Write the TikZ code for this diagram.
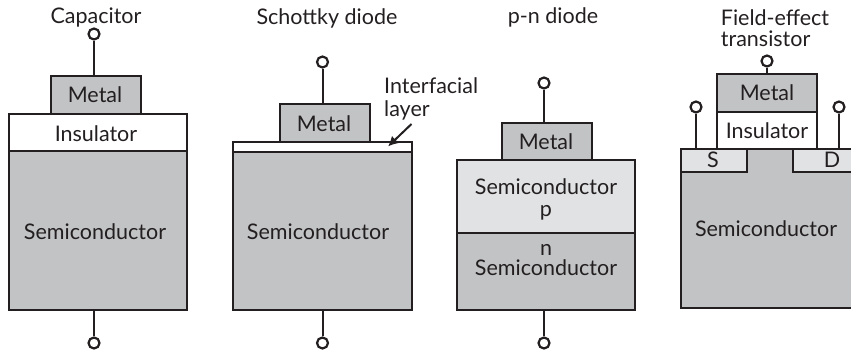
\documentclass[tikz,border=0pt]{standalone}
\usepackage{fontspec}
\usetikzlibrary{arrows.meta}
\setmainfont{Lato}
\definecolor{semi}{RGB}{194,195,197}
\definecolor{lite}{RGB}{225,226,228}
\definecolor{ink}{RGB}{35,31,32}
\tikzset{
  lab/.style={text=ink,font=\fontsize{21.5}{23}\selectfont,align=center,inner sep=0pt},
  wire/.style={draw=ink,line width=2pt},
  term/.style={circle,draw=ink,line width=2.2pt,fill=white,minimum size=11pt,inner sep=0pt}
}
\newcommand{\lay}[6]{% name, x1, y1, x2, y2, fill
  \node[draw=ink,line width=2pt,fill=#6,inner sep=0pt,outer sep=0pt,anchor=north west,minimum width=#4pt-#2pt,minimum height=#5pt-#3pt] (#1) at (#2,#3) {};}
\begin{document}
\begin{tikzpicture}[x=1pt,y=-1pt]
\useasboundingbox (0,0) rectangle (851,351);
% Capacitor
\lay{capS}{9}{151}{187}{310}{semi}
\lay{capI}{9}{114}{187}{151}{white}
\lay{capM}{51}{76}{141}{114}{semi}
\node[term] (capT) at (94,34) {};
\node[term] (capB) at (94,343) {};
\draw[wire] (capT) -- (capT |- capM.north);
\draw[wire] (capB) -- (capB |- capS.south);
\node[lab] at (96,18) {Capacitor};
\node[lab] at (95,95) {Metal};
\node[lab] at (96,134) {Insulator};
\node[lab] at (95,232) {Semiconductor};
% Schottky
\lay{schS}{233}{152}{412}{310}{semi}
\lay{schI}{233}{142}{412}{152}{white}
\lay{schM}{280}{104}{370}{142}{semi}
\node[term] (schT) at (322.5,62) {};
\node[term] (schB) at (322.5,343) {};
\draw[wire] (schT) -- (schT |- schM.north);
\draw[wire] (schB) -- (schB |- schS.south);
\node[lab] at (327,18) {Schottky diode};
\node[lab] at (324,124) {Metal};
\node[lab] at (318,232) {Semiconductor};
\node[lab,anchor=north west,align=left] (ilab) at (384,77) {Interfacial\\layer};
\coordinate (arrS) at (411.5,124);
\coordinate (arrE) at (388,146.5);
\draw[draw=ink,line width=2pt,-{Latex[length=10pt,width=10pt]}] (arrS) -- (arrE);
% p-n
\lay{pnN}{457}{233}{635}{310}{semi}
\lay{pnP}{457}{160}{635}{233}{lite}
\lay{pnM}{502}{123}{592}{160}{semi}
\node[term] (pnT) at (544,83) {};
\node[term] (pnB) at (544,343) {};
\draw[wire] (pnT) -- (pnT |- pnM.north);
\draw[wire] (pnB) -- (pnB |- pnN.south);
\node[lab] at (553,17) {p-n diode};
\node[lab] at (546,142) {Metal};
\node[lab] at (546,199) {Semiconductor\\[-1pt]p};
\node[lab] at (546,260) {n\\[-3pt]Semiconductor};
% FET
\lay{fetB}{681}{172}{855}{308}{semi}
\lay{fetS}{681}{149}{746.5}{172}{lite}
\lay{fetD}{792.5}{149}{855}{172}{lite}
\node[fill=semi,inner sep=0pt,outer sep=0pt,anchor=north west,minimum width=44pt,minimum height=26pt] (fetC) at (747.5,149) {};
\lay{fetI}{717}{112}{817}{149}{white}
\lay{fetM}{717}{74}{817}{112}{semi}
\node[term] (fetT) at (767,61) {};
\node[term] (fetL) at (696,107) {};
\node[term] (fetR) at (839,107) {};
\draw[wire] (fetT) -- (fetT |- fetM.north);
\draw[wire] (fetL) -- (fetL |- fetS.north);
\draw[wire] (fetR) -- (fetR |- fetD.north);
\node[lab,align=left] at (775,28) {Field-effect\\[-2pt]transistor};
\node[lab] at (767,93) {Metal};
\node[lab] at (767,131) {Insulator};
\node[lab] at (713,160) {S};
\node[lab] at (832,160) {D};
\node[lab] at (766,229) {Semiconductor};
\end{tikzpicture}
\end{document}
